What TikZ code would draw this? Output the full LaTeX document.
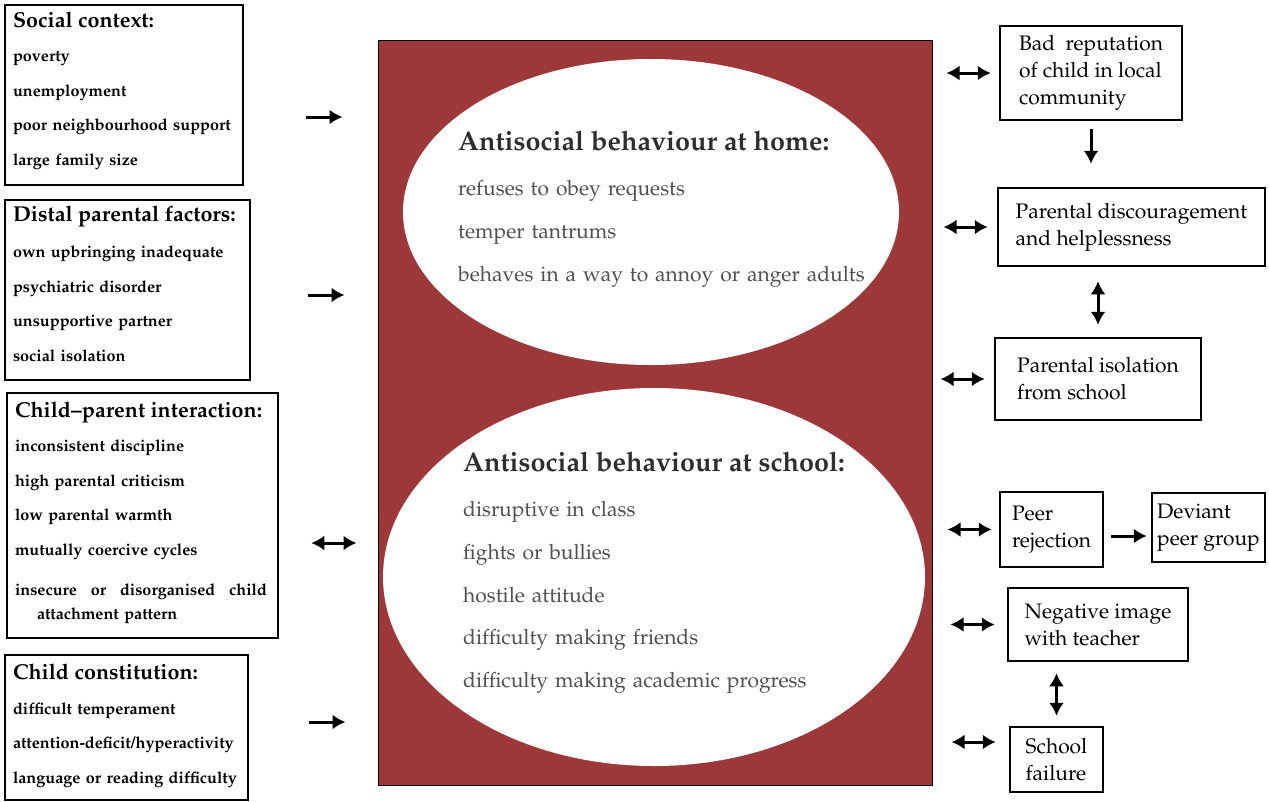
\documentclass[tikz,border=0pt]{standalone}
\usepackage[T1]{fontenc}
\usepackage{mathpazo}
\usepackage{tikz}
\usetikzlibrary{arrows.meta,positioning}
\definecolor{framered}{RGB}{156,56,58}
\definecolor{titlegray}{RGB}{46,46,46}
\definecolor{itemgray}{RGB}{80,80,80}
\tikzstyle{arrow} = [line width=3pt,-{Latex[length=13pt,width=15pt]}]
\tikzstyle{dblarrow} = [line width=3pt,{Latex[length=13pt,width=15pt]}-{Latex[length=13pt,width=15pt]}]
\tikzstyle{factor} = [rectangle, draw=black, line width=2.5pt, align=left, inner xsep=8pt, inner ysep=0pt, font=\fontsize{16.2}{34.5}\selectfont\bfseries]
\tikzstyle{outcome} = [rectangle, draw=black, line width=2.5pt, align=left, inner sep=2pt, font=\fontsize{21}{27}\selectfont]
\tikzstyle{behaviour} = [anchor=north west, inner sep=0pt, align=left, text=itemgray, font=\fontsize{21}{42.8}\selectfont]
\newcommand{\ftitle}[1]{{\fontsize{21.5}{34.5}\selectfont #1}}
\newcommand{\btitle}[1]{{\fontsize{27}{42.8}\selectfont\bfseries\color{titlegray}#1}}
\newcommand{\fend}[1]{\rule[-#1]{0pt}{#1}}

\begin{document}
\begin{tikzpicture}[x=1pt,y=-1pt]
        \useasboundingbox (0,0) rectangle (1269,801);

        % risk factors
        \node (social) [factor, text width=222pt, minimum height=180pt] at (124,95) {\ftitle{Social context:}\\ poverty\\ unemployment\\ poor neighbourhood support\\ large family size\fend{13pt}};
        \node (distal) [factor, text width=229pt, minimum height=180pt] at (127.5,290) {\ftitle{Distal parental factors:}\\[2pt] own upbringing inadequate\\ psychiatric disorder\\ unsupportive partner\\ social isolation\fend{13pt}};
        \node (childpar) [factor, text width=255pt, minimum height=245pt] at (142.5,515.5) {\ftitle{Child--parent interaction:}\\ inconsistent discipline\\ high parental criticism\\ low parental warmth\\ mutually coercive cycles\\[6pt] \makebox[252pt][s]{insecure\hfill or\hfill disorganised\hfill child}\\[-10.5pt] \hspace*{22pt}attachment pattern\fend{10pt}};
        \node (constit) [factor, text width=227pt, minimum height=145pt] at (126.5,727.5) {\ftitle{Child constitution:}\\ difficult temperament\\ attention-deficit/hyperactivity\\ language or reading difficulty\fend{8pt}};

        % antisocial behaviour
        \node (frame) [rectangle, draw=black, line width=1pt, fill=framered, minimum width=554pt, minimum height=745pt] at (655,412.5) {};
        \fill[white] (651,212) ellipse [x radius=248pt, y radius=153pt];
        \fill[white] (654,577) ellipse [x radius=271pt, y radius=189pt];
        \node (home) [behaviour, text width=420pt] at (458,131) {\btitle{Antisocial behaviour at home:}\\[2pt] refuses to obey requests\\ temper tantrums\\ behaves in a way to annoy or anger adults};
        \node (school) [behaviour, text width=420pt] at (463,452) {\btitle{Antisocial behaviour at school:}\\[2pt] disruptive in class\\ fights or bullies\\ hostile attitude\\ difficulty making friends\\ difficulty making academic progress};

        % consequences
        \node (reputation) [outcome, minimum width=182pt, minimum height=94pt] at (1091,73) {Bad\ \ reputation\\ of child in local\\ community};
        \node (discourage) [outcome, minimum width=267pt, minimum height=78pt] at (1131.5,227) {Parental discouragement\\ and helplessness};
        \node (isolation) [outcome, minimum width=206pt, minimum height=82pt] at (1098,379) {Parental isolation\\ from school};
        \node (peer) [outcome, minimum width=103pt, minimum height=75pt] at (1051.5,529.5) {Peer\\ rejection};
        \node (deviant) [outcome, minimum width=113pt, minimum height=69pt] at (1208.5,527.5) {Deviant\\ peer group};
        \node (negative) [outcome, minimum width=180pt, minimum height=73pt] at (1098,624.5) {Negative image\\ with teacher};
        \node (failure) [outcome, minimum width=93pt, minimum height=65pt] at (1056.5,759.5) {School\\ failure};

        % arrows into the frame
        \coordinate (in1) at ([yshift=-22pt]social.east);
        \coordinate (in2) at ([yshift=-5pt]distal.east);
        \coordinate (in3) at ([yshift=-27.5pt]childpar.east);
        \coordinate (in4) at ([yshift=5.5pt]constit.east);
        \draw[arrow, shorten <=62pt, shorten >=35pt] (in1) -- (in1 -| frame.west);
        \draw[arrow, shorten <=57pt, shorten >=33pt] (in2) -- (in2 -| frame.west);
        \draw[dblarrow, shorten <=32pt, shorten >=21pt] (in3) -- (in3 -| frame.west);
        \draw[arrow, shorten <=60pt, shorten >=32pt] (in4) -- (in4 -| frame.west);

        % arrows out of the frame
        \coordinate (fw) at ([yshift=17.5pt]failure.west);
        \draw[dblarrow, shorten <=14pt, shorten >=8pt] (frame.east |- reputation) -- (reputation.west);
        \draw[dblarrow, shorten <=11pt, shorten >=9pt] (frame.east |- discourage) -- (discourage.west);
        \draw[dblarrow, shorten <=8pt, shorten >=9pt] (frame.east |- isolation) -- (isolation.west);
        \draw[dblarrow, shorten <=15pt, shorten >=7pt] (frame.east |- peer) -- (peer.west);
        \draw[dblarrow, shorten <=18pt, shorten >=12pt] (frame.east |- negative) -- (negative.west);
        \draw[dblarrow, shorten <=19pt, shorten >=13pt] (frame.east |- fw) -- (fw);

        % links between consequences
        \coordinate (pr) at ([yshift=-6.5pt]peer.east);
        \draw[arrow, shorten <=8pt, shorten >=23pt] (reputation.south) -- (reputation.south |- discourage.north);
        \draw[dblarrow, shorten <=14pt, shorten >=12pt] (isolation.north |- discourage.south) -- (isolation.north);
        \draw[arrow, shorten <=7pt, shorten >=4pt] (pr) -- (pr -| deviant.west);
        \draw[dblarrow, shorten <=11pt, shorten >=10pt] (failure.north |- negative.south) -- (failure.north);

\end{tikzpicture}
\end{document}
